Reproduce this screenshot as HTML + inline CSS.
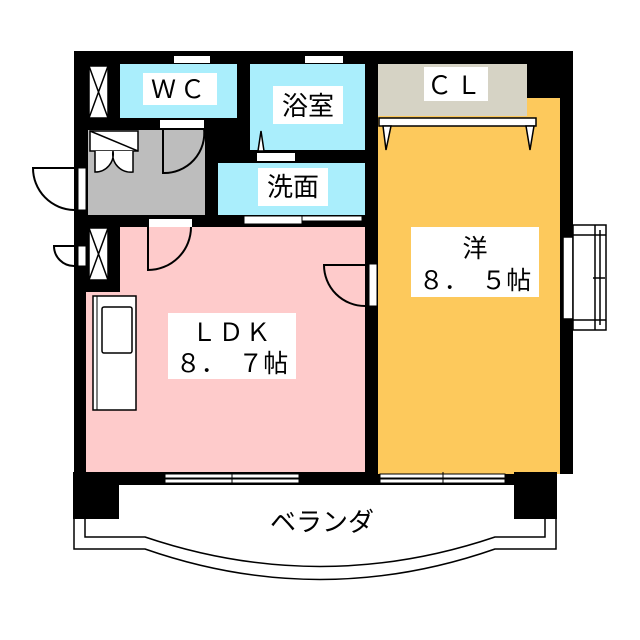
<!DOCTYPE html>
<html><head><meta charset="utf-8"><style>
html,body{margin:0;padding:0;background:#fff;width:640px;height:640px;overflow:hidden}
text{font-family:"Noto Sans CJK JP",sans-serif;fill:#000}
</style></head><body>
<svg width="640" height="640" viewBox="0 0 640 640" xmlns="http://www.w3.org/2000/svg">
<rect x="74" y="51" width="468" height="434" fill="#000"/>
<rect x="540" y="51" width="33" height="47" fill="#000"/>
<rect x="560" y="98" width="13" height="376" fill="#000"/>
<rect x="365" y="465" width="192" height="20" fill="#000"/>
<rect x="120" y="64" width="117" height="54" fill="#aaeefc"/>
<rect x="250" y="64" width="115" height="86" fill="#aaeefc"/>
<rect x="218" y="163" width="147" height="52" fill="#aaeefc"/>
<rect x="88" y="130" width="117" height="85" fill="#bdbdbd"/>
<rect x="120" y="227" width="245" height="245" fill="#fecbcb"/>
<rect x="86" y="292" width="40" height="180" fill="#fecbcb"/>
<rect x="378" y="98" width="182" height="376" fill="#fdc95c"/>
<rect x="378" y="64" width="149" height="52" fill="#d6d3c5"/>
<rect x="527" y="64" width="13" height="34" fill="#000"/>
<rect x="379" y="118" width="157" height="8" fill="#fff" stroke="#000" stroke-width="1.5"/>
<path d="M383 126 L391 126 L386 150 Z M526 126 L534 126 L530 150 Z" fill="#fff" stroke="#000" stroke-width="1.5"/>
<g fill="#fff" stroke="#000" stroke-width="1.5">
<rect x="89" y="66" width="19" height="52"/>
<path d="M89 66 L108 118 M108 66 L89 118" fill="none"/>
<rect x="89" y="228" width="19" height="52"/>
<path d="M89 228 L108 280 M108 228 L89 280" fill="none"/>
</g>
<rect x="174" y="56" width="36" height="7" fill="#fff"/>
<rect x="305" y="56" width="38" height="7" fill="#fff"/>
<rect x="160" y="120" width="44" height="8" fill="#fff"/>
<path d="M163 128 L163 173 A40 40 0 0 0 204 128" fill="none" stroke="#000" stroke-width="2"/>
<rect x="90" y="131" width="48" height="20" fill="#fff" stroke="#000" stroke-width="1.5"/>
<path d="M90 131 L138 151" stroke="#000" stroke-width="1.5"/>
<path d="M95 151 L95 172 A18 18 0 0 0 113 151 M133 151 L133 172 A18 18 0 0 1 113 151" fill="#fff" stroke="#000" stroke-width="1.5"/>
<rect x="78" y="168" width="8" height="42" fill="#fff" stroke="#000" stroke-width="1"/>
<path d="M74 168 L33 168 A42 42 0 0 0 74 210" fill="none" stroke="#000" stroke-width="2"/>
<rect x="78" y="246" width="8" height="20" fill="#fff" stroke="#000" stroke-width="1"/>
<path d="M74 246 L54 246 A20 20 0 0 0 74 266" fill="none" stroke="#000" stroke-width="2"/>
<rect x="257" y="153" width="38" height="8" fill="#fff"/>
<path d="M258 151 L261 131 L264 151 Z" fill="#fff" stroke="#000" stroke-width="1.5"/>
<rect x="244" y="216" width="58" height="8" fill="#fff" stroke="#000" stroke-width="1"/>
<rect x="302" y="216" width="60" height="5" fill="#fff" stroke="#000" stroke-width="1"/>
<rect x="149" y="219" width="43" height="8" fill="#fff"/>
<path d="M148 227 L148 270 A43 43 0 0 0 191 227" fill="none" stroke="#000" stroke-width="2"/>
<rect x="369" y="264" width="8" height="42" fill="#fff" stroke="#000" stroke-width="1"/>
<path d="M365 265 L324 265 A41 41 0 0 0 365 306" fill="none" stroke="#000" stroke-width="2"/>
<rect x="93" y="296" width="43" height="114" fill="#fff" stroke="#000" stroke-width="1.5"/>
<path d="M97 296 L97 410" stroke="#000" stroke-width="1"/>
<rect x="102" y="307" width="30" height="46" rx="2" fill="#fff" stroke="#000" stroke-width="1.5"/>
<g fill="#fff" stroke="#000" stroke-width="1.5">
<rect x="563" y="237" width="10" height="82"/>
<rect x="573" y="225" width="33" height="105"/>
<path d="M573 235 L606 235 M573 320 L606 320 M595 225 L595 330 M600 230 L600 325 M593 278 L605 278" fill="none"/>
</g>
<g fill="#fff" stroke="#000" stroke-width="1">
<rect x="165" y="474" width="134" height="4"/>
<rect x="165" y="479" width="134" height="4"/>
<rect x="380" y="474" width="125" height="4"/>
<rect x="380" y="479" width="125" height="4"/>
</g>
<path d="M232 472 L232 485 M443 472 L443 485" stroke="#000" stroke-width="1"/>
<rect x="73" y="472" width="46" height="47" fill="#000"/>
<rect x="514" y="472" width="43" height="47" fill="#000"/>
<path d="M74 519 L74 549 L145 549 Q320 610 495 549 L556 549 L556 519" fill="none" stroke="#000" stroke-width="1.5"/>
<path d="M85 519 L85 537 L145 537 Q320 596 495 537 L545 537 L545 519" fill="none" stroke="#000" stroke-width="1.5"/>
<rect x="143" y="73" width="74" height="32" fill="#fff"/>
<text x="180" y="98" font-size="25" text-anchor="middle" letter-spacing="4">ＷＣ</text>
<rect x="273" y="86" width="70" height="38" fill="#fff"/>
<text x="308" y="115" font-size="26" text-anchor="middle">浴室</text>
<rect x="258" y="168" width="70" height="38" fill="#fff"/>
<text x="293" y="196" font-size="26" text-anchor="middle">洗面</text>
<rect x="424" y="67" width="64" height="34" fill="#fff"/>
<text x="456" y="94" font-size="25" text-anchor="middle" letter-spacing="4">ＣＬ</text>
<rect x="411" y="227" width="128" height="70" fill="#fff"/>
<text x="475" y="257" font-size="25" text-anchor="middle">洋</text>
<text x="475" y="289" font-size="25" text-anchor="middle">８．　５帖</text>
<rect x="168" y="313" width="128" height="66" fill="#fff"/>
<text x="232" y="341" font-size="25" text-anchor="middle" letter-spacing="2">ＬＤＫ</text>
<text x="232" y="372" font-size="25" text-anchor="middle">８．　７帖</text>
<text x="322" y="531" font-size="26" text-anchor="middle">ベランダ</text>
</svg>
</body></html>
